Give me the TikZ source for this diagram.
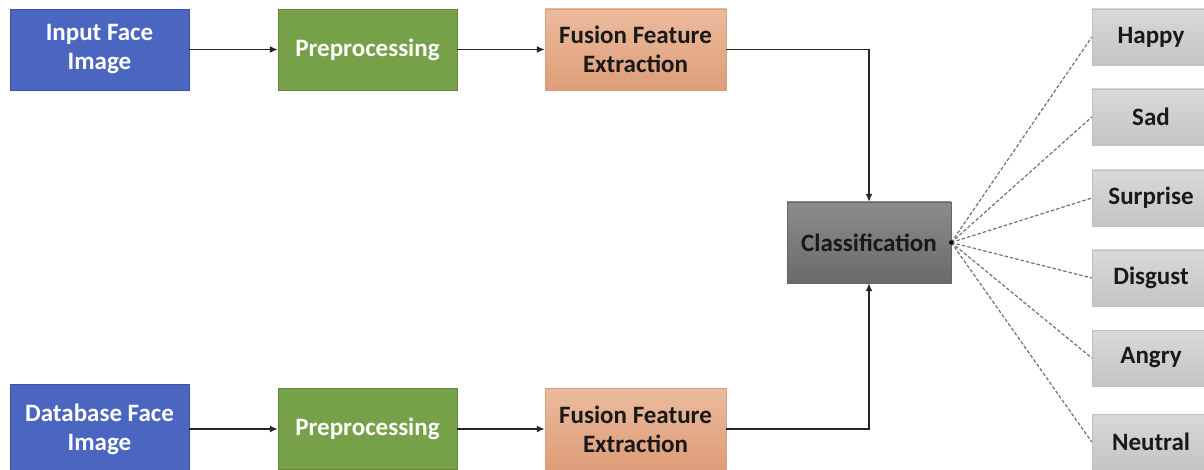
\documentclass[tikz,border=0pt]{standalone}
\usepackage{fontspec}
\setmainfont{Carlito}
\usetikzlibrary{arrows.meta}
\definecolor{bluef}{HTML}{4A66C0}
\definecolor{blued}{HTML}{3A55A8}
\definecolor{greenf}{HTML}{77A148}
\definecolor{greend}{HTML}{628A38}
\definecolor{salt}{HTML}{EBBB9D}
\definecolor{salb}{HTML}{DE9D78}
\definecolor{sald}{HTML}{D9A07E}
\definecolor{grt}{HTML}{8C8C8C}
\definecolor{grb}{HTML}{6A6A6A}
\definecolor{lgt}{HTML}{D9D9D9}
\definecolor{lgb}{HTML}{C4C4C4}
\tikzset{
  base/.style={minimum height=81pt, align=center, font=\bfseries\fontsize{25}{29}\selectfont, inner sep=0pt},
  bluebox/.style={base, minimum width=179pt, fill=bluef, draw=blued, text=white},
  greenbox/.style={base, minimum width=179pt, fill=greenf, draw=greend, text=white},
  salbox/.style={base, minimum width=181pt, top color=salt, bottom color=salb, draw=sald, text=black!90},
  clsbox/.style={base, minimum width=164pt, top color=grt, bottom color=grb, draw=black!60, text=black!90},
  emobox/.style={minimum height=56pt, minimum width=118pt, top color=lgt, bottom color=lgb, draw=black!25, font=\bfseries\fontsize{25}{29}\selectfont, text=black!90, inner sep=0pt},
  arr/.style={-{Latex[length=8pt,width=7pt]}, line width=1.8pt, draw=black!85},
  dsh/.style={line width=1.2pt, draw=black!55, dash pattern=on 3.5pt off 2pt},
}
\begin{document}
\begin{tikzpicture}[x=1pt,y=-1pt]
\clip (0,0) rectangle (1204,470);
\fill[white] (0,0) rectangle (1204,470);
\node[bluebox] (in) at (99.5,49.5) {Input Face\\Image};
\node[greenbox] (p1) at (367.5,49.5) {Preprocessing};
\node[salbox] (f1) at (635.5,49.5) {Fusion Feature\\Extraction};
\node[bluebox, minimum height=90pt] (db) at (99.5,429) {Database Face\\Image};
\node[greenbox] (p2) at (367.5,429) {Preprocessing};
\node[salbox] (f2) at (635.5,429) {Fusion Feature\\Extraction};
\node[clsbox] (cl) at (869,242.5) {Classification};
\node[emobox] (e1) at (1151,37) {Happy};
\node[emobox] (e2) at (1151,117) {Sad};
\node[emobox] (e3) at (1151,198) {Surprise};
\node[emobox] (e4) at (1151,278) {Disgust};
\node[emobox] (e5) at (1151,358) {Angry};
\node[emobox] (e6) at (1151,442) {Neutral};
\draw[arr] (in) -- (p1);
\draw[arr] (p1) -- (f1);
\draw[arr] (db.east |- p2) -- (p2);
\draw[arr] (p2) -- (f2);
\draw[arr] (f1.east) -| (cl.north);
\draw[arr] (f2.east) -| (cl.south);
\foreach \e in {e1,e2,e3,e4,e5,e6}{
  \draw[dsh] (cl.east) -- (\e.west);
}
\fill[black] (cl.east) circle (2.2pt);
\end{tikzpicture}
\end{document}
